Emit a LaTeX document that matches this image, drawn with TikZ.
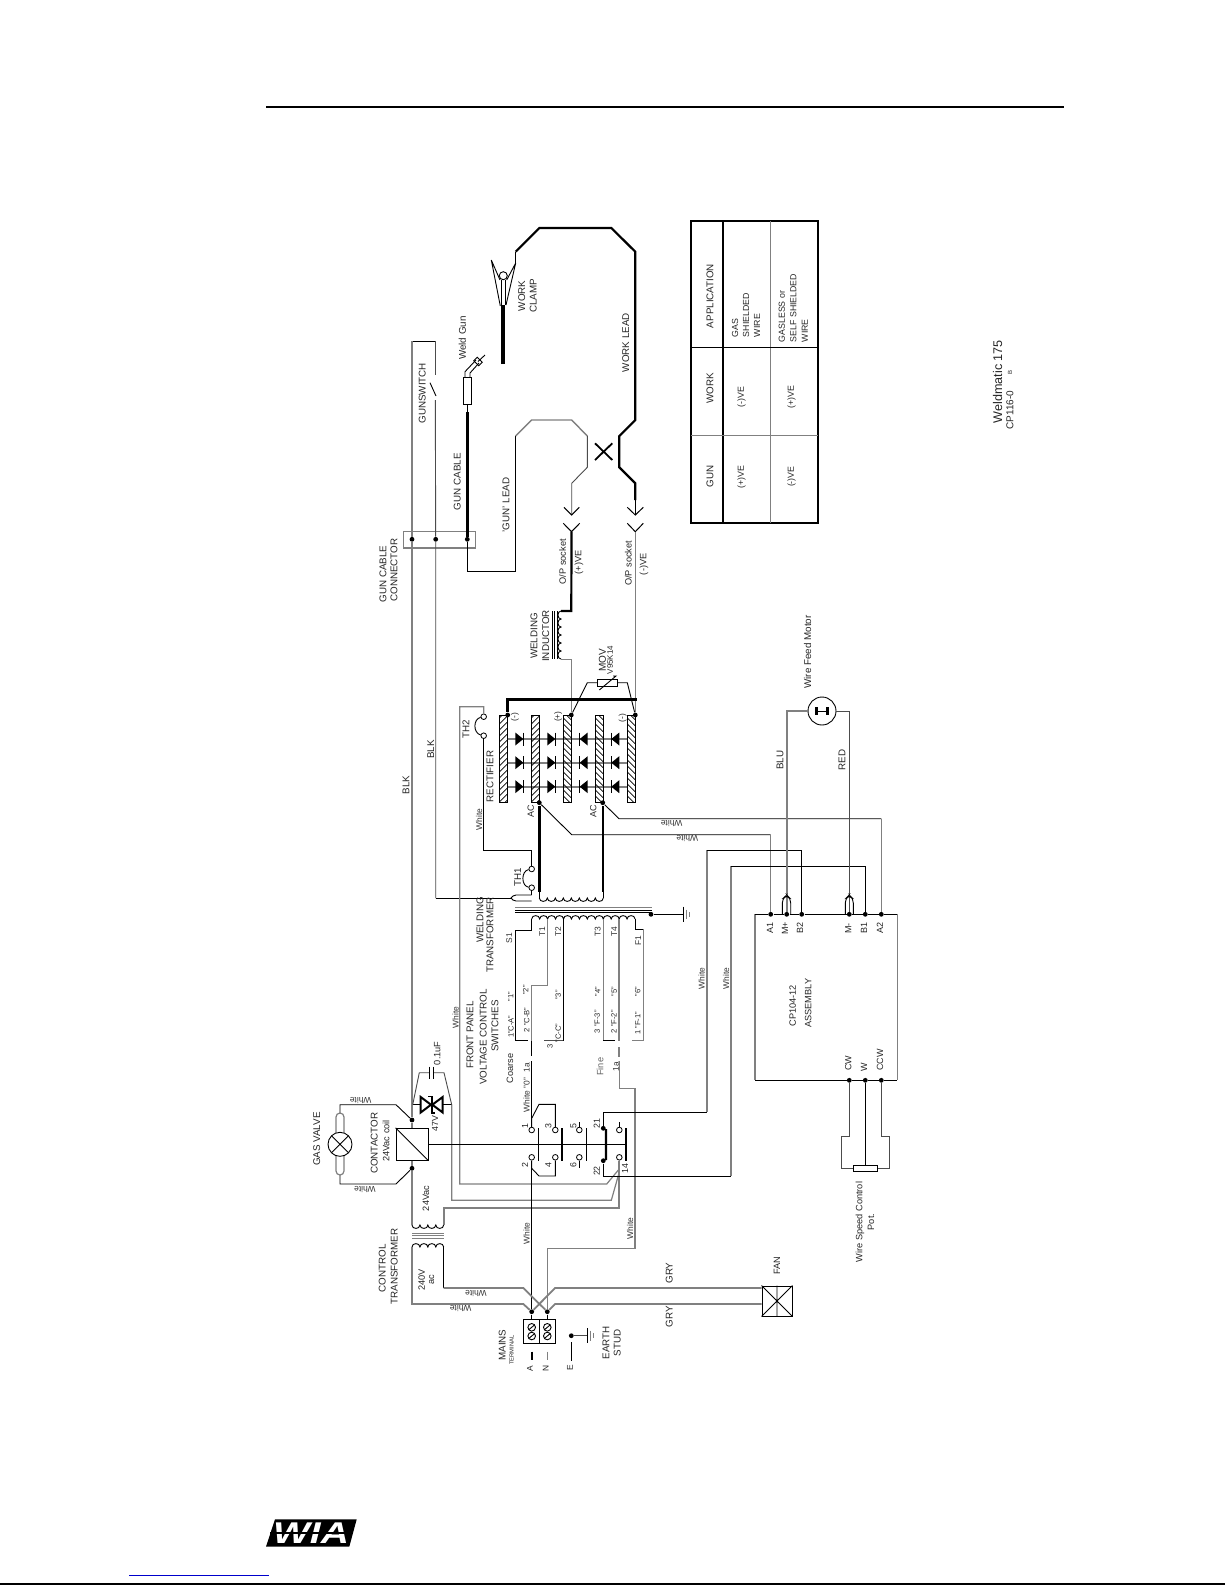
\documentclass[tikz,border=0pt]{standalone}
\usepackage{fontspec}
\setmainfont{Liberation Sans}
\definecolor{wg}{gray}{0.5}
\definecolor{dg}{gray}{0.3}
\newcommand\fs[1]{\fontsize{#1}{#1}\selectfont}
\newcommand\hcoil[5]{\draw[#5] (#1) foreach \i in {1,...,#2}{ .. controls +(0,#4) and +(0,#4) .. ++(#3,0)};}
\newcommand\vcoil[5]{\draw[#5] (#1) foreach \i in {1,...,#2}{ .. controls +(#4,0) and +(#4,0) .. ++(0,#3)};}
\newcommand\hatchbar[3]{%
 \begin{scope}\clip (#1,715) rectangle (#2,802.7);
 \foreach \yy in {700,706,...,815}{\draw[black,line width=0.35pt] (#1,\yy) -- (#2,{\yy+#3*7.7});}
 \end{scope}
 \draw[bw] (#1,715) rectangle (#2,802.7);}
\newcommand\drd[3]{%
 \fill ({#1-4*#3},{#2-6.5}) -- ({#1+4*#3},#2) -- ({#1-4*#3},{#2+6.5}) -- cycle;
 \draw[line width=0.7pt] ({#1+4*#3},{#2-6.5}) -- ({#1+4*#3},{#2+6.5});}
\begin{document}
\begin{tikzpicture}[x=0.5pt,y=-0.5pt,
 bw/.style={black,line width=0.45pt},
 dw/.style={dg,line width=0.45pt},
 tg/.style={wg,line width=0.45pt},
 gw/.style={wg,line width=0.9pt},
 hw/.style={black,line width=1.5pt},
 dotn/.style={circle,fill=black,inner sep=0pt,minimum size=2.4pt},
 term/.style={circle,draw=black,fill=white,line width=0.4pt,inner sep=0pt,minimum size=2.8pt},
 lb/.style={rotate=90,inner sep=0pt,text=black!85,font=\fs{4.9}},
 ls/.style={rotate=90,inner sep=0pt,text=black!85,font=\fs{4.2}},
 lw/.style={rotate=180,inner sep=0pt,text=black!80,font=\fs{4.2}},
 lv/.style={rotate=90,inner sep=0pt,text=black!80,font=\fs{4.2}}]
\useasboundingbox (0,0) rectangle (1225,1585);
\fill[white] (0,0) rectangle (1225,1585);
% page furniture
\coordinate (ruleL) at (266,107); \coordinate (ruleR) at (1064,107);
\draw[line width=1pt] (ruleL) -- (ruleR);
\coordinate (footL) at (0,1584); \coordinate (footR) at (1225,1584);
\draw[line width=0.8pt] (footL) -- (footR);
\coordinate (linkL) at (129,1575.3); \coordinate (linkR) at (269,1575.3);
\draw[blue!80!black,line width=0.5pt] (linkL) -- (linkR);
\fill (266,1546.7) -- (275,1519.3) -- (356.7,1519.3) -- (349.3,1546.7) -- cycle;
\node[inner sep=0,text=white,font=\fs{15}\bfseries\itshape,xscale=1.3] (wia) at (311,1533) {WIA};
\draw[line width=0.7pt] (270,1533) -- (353,1533);

% named terminals
\node[dotn] (dGate) at (412,539.3) {};
\node[dotn] (dSw) at (435.7,539.3) {};
\node[dotn] (dGun) at (467.3,539.3) {};
\node[dotn] (dCtop) at (412,1120) {};
\node[dotn] (dCbot) at (412,1168.3) {};
\node[dotn] (dNeg1) at (507.7,715) {};
\node[dotn] (dPos) at (571.3,715) {};
\node[dotn] (dNeg2) at (635.3,715) {};
\node[dotn] (dAC1) at (539.3,802.7) {};
\node[dotn] (dAC2) at (602.7,802.7) {};
\node[dotn] (dCore) at (651,914.3) {};
\node[dotn] (dA1) at (770.7,914.3) {};
\node[dotn] (dMp) at (786.7,914.3) {};
\node[dotn] (dB2) at (801.7,914.3) {};
\node[dotn] (dMm) at (849.3,914.3) {};
\node[dotn] (dB1) at (865.3,914.3) {};
\node[dotn] (dA2) at (881.3,914.3) {};
\node[dotn] (dCW) at (849.3,1080.3) {};
\node[dotn] (dW) at (865.3,1080.3) {};
\node[dotn] (dCCW) at (881.3,1080.3) {};
\node[dotn] (dLA) at (531.7,1311.7) {};
\node[dotn] (dLN) at (547.3,1311.7) {};
\node[dotn] (dE) at (571.3,1335.7) {};
\node[dotn] (d21) at (603.3,1128.3) {};
\node[dotn] (d22) at (603.3,1160.7) {};
\node[term] (k1) at (531.7,1130) {};
\node[term] (k2) at (531.7,1157.3) {};
\node[term] (k3) at (555.3,1130) {};
\node[term] (k4) at (555.3,1157.3) {};
\node[term] (k5) at (579.3,1130) {};
\node[term] (k6) at (579.3,1157.3) {};
\node[term] (k13) at (619.3,1130) {};
\node[term] (k14) at (619.3,1157.3) {};
\node[term] (th1a) at (531.7,869) {};
\node[term] (th1b) at (531.7,887.7) {};
\node[term] (th2a) at (483.7,716.7) {};
\node[term] (th2b) at (483.7,735.7) {};
\coordinate (sockP) at (571.5,531.7); \coordinate (plugP) at (571.7,515);
\coordinate (sockN) at (635.3,531.7); \coordinate (plugN) at (635.3,515);

% gun cable connector
\draw[tg,line width=0.6pt] (403.3,531.7) rectangle (475.7,548);
% gunswitch wires
\draw[bw] (412,341) -- (435.3,341);
\draw[gw] (412,341) -- (dGate) -- (dCtop);
\draw[dw] (435.3,341) -- (435.3,375);
\draw[bw] (430,382.7) -- (436,396);
\draw[dw] (435.3,400) -- (dSw) -- (435.7,898);
\draw[bw] (435.7,898) -- (512,898);
\draw[bw] (531.7,895) -- (516,895) .. controls (513,895) and (512,897) .. (511,898) .. controls (512,899) and (513,901) .. (516,901) -- (531.7,901);
\draw[bw] (th1b) -- (531.7,895);
% TH1 TH2
\draw[bw] (th1a) .. controls (521,871) and (521,886) .. (th1b);
\draw[bw] (th2a) .. controls (473,719) and (473,733) .. (th2b);
\draw[bw] (th1a) -- (531.7,850.7) -- (483.7,850.7) -- (th2b);
\draw[tg,line width=0.6pt] (th2a) -- (483.7,706.7) -- (459.7,706.7) -- (459.7,1184) -- (606.7,1184) -- (618.8,1169.5);
\draw[tg,line width=0.6pt] (451.7,1104.7) -- (451.7,1200.3) -- (611.3,1200.3) -- (619.3,1172);
\draw[gw] (k14) -- (619.3,1208) -- (443.7,1208) -- (443.7,1225);
% gun lead & gun
\draw[hw,line width=1.3pt] (dGun) -- (467.3,411.7);
\draw[bw] (467.3,411.7) -- (467.3,404.3);
\draw[bw] (dGun) -- (467.3,571.7) -- (515.7,571.7) -- (515.7,436);
\draw[tg,line width=0.7pt] (515.7,436) -- (531.7,420) -- (571.7,420) -- (587.3,436);
\draw[dw] (587.3,436) -- (587.3,467.3) -- (571.7,483.3) -- (plugP);
\draw[bw,line width=0.5pt] (564,507.3) -- (plugP) -- (579.3,507.3);
\draw[bw,line width=0.5pt] (563.3,523.3) -- (sockP) -- (579.7,523.3);
\draw[bw,line width=0.5pt] (627.3,507.3) -- (plugN) -- (643.3,507.3);
\draw[bw,line width=0.5pt] (627.3,523.3) -- (sockN) -- (643.3,523.3);
\draw[bw,fill=white] (463.3,377.7) rectangle (471.3,404.3);
\draw[bw] (465,377.7) -- (465,371.7) -- (476,360);
\draw[bw] (470,377.7) -- (470,373) -- (479,363);
\draw[bw,rotate around={45:(478,361.5)}] (475.5,358) rectangle (480.5,365);
\draw[bw] (478,361.5) -- (485,355);
% work lead
\draw[hw,line width=1.1pt] (635.3,500) -- (635.3,483.3) -- (619.3,467.3) -- (619.3,436) -- (635.3,420) -- (635.3,251.7) -- (611.3,228) -- (539.3,228) -- (515.7,251.7);
\draw[bw] (plugN) -- (635.3,500);
\draw[bw] (515.7,251.7) -- (515.7,263);
\draw[hw,line width=2pt] (503.3,364) -- (503.3,305);
\draw[bw] (515.7,263) -- (506,305) (515.7,263) -- (506.7,280);
\draw[bw] (491.3,260) -- (500.3,306) (491.3,260) -- (500,280);
\draw[bw] (501.5,280) -- (501.5,305) (505,280) -- (505,305);
\draw[bw,fill=white] (503.3,275.7) circle[radius=4];
\draw[line width=0.9pt] (595,443.3) -- (612.3,460) (612.3,443.3) -- (595,460);
% inductor
\draw[hw,line width=1.1pt] (sockP) -- (571.3,611) -- (561,611);
\draw[tg] (dPos) -- (571.3,659.3) -- (560.7,659.3);
\vcoil{561,611}{6}{8}{-4}{bw}
\foreach \xx in {552.3,554.7,557}{\draw[bw] (\xx,611) -- (\xx,659);}
\draw[tg,line width=0.6pt] (dNeg2) -- (sockN);
% MOV
\draw[bw] (dPos) -- (587.3,682.7) -- (597.3,682.7);
\draw[bw] (617.3,682.7) -- (627.3,682.7) -- (dNeg2);
\draw[bw,fill=white] (597.3,679.3) rectangle (617.3,686);
\draw[bw] (599.3,690) -- (616,676) -- (613,676);
\draw[hw,line width=1.5pt] (dNeg1) -- (507.7,699.3) -- (636.7,699.3);
% rectifier
\foreach \yy in {739,762.7,786.7}{\draw[wg,line width=1pt] (507,\yy) -- (627.3,\yy);}
\hatchbar{499.3}{507}{-1}
\hatchbar{531.3}{539}{-1}
\hatchbar{563.3}{571}{1}
\hatchbar{595.3}{603}{1}
\hatchbar{627.3}{635}{1}
\foreach \yy in {739,762.7,786.7}{
 \drd{519.3}{\yy}{1}\drd{551.3}{\yy}{1}\drd{583.7}{\yy}{-1}\drd{615.3}{\yy}{-1}}
% welding transformer
\draw[line width=1.2pt] (dAC1) -- (539.3,891.7);
\draw[line width=1.2pt] (dAC2) -- (602.7,891.7);
\draw[bw] (539.3,891.7) -- (539.3,898);
\draw[bw] (603.3,891.7) -- (603.3,898);
\hcoil{539.3,898}{8}{8}{4.5}{bw}
\draw[tg] (515,907.3) -- (651.7,907.3);
\draw[bw] (515,910) -- (651.7,910);
\draw[bw] (515,912.3) -- (651.7,912.3);
\hcoil{531.7,919}{13}{7.95}{-4.5}{bw}
\draw[bw] (515.7,1040.7) -- (515.7,930) -- (531.7,930) -- (531.7,919);
\draw[tg] (547.7,919) -- (547.7,985.3) -- (531.7,985.3) -- (531.7,1040.7);
\draw[bw] (563.3,919) -- (563.3,1040.7);
\draw[tg] (603.3,919) -- (603.3,1040.7);
\draw[gw,line width=0.8pt] (619,919) -- (619,1040.7);
\draw[bw] (635,919) -- (635,929) -- (643.3,929);
\draw[gw,line width=0.7pt] (643.3,929) -- (643.3,1040.7);
\draw[bw] (515.7,1040.7) -- (527.7,1040.7);
\draw[dw] (544,1040.7) -- (563.3,1040.7);
\draw[bw] (603.3,1040.7) -- (615,1040.7);
\draw[tg] (632,1040.7) -- (643.3,1040.7);
\draw[bw,line width=0.6pt] (531.7,1041) -- (531.7,1056) (k1) -- (531.7,1061);
\draw[tg,line width=0.6pt] (619,1047) -- (619,1056.7);
\draw[tg,line width=0.6pt] (619.3,1061) -- (619.3,1088.3) -- (635,1088.3) -- (635,1248.3) -- (547.3,1248.3) -- (dLN);
% ground
\draw[bw] (dCore) -- (683.3,914.3);
\draw[bw] (683.3,906.7) -- (683.3,922);
\draw[tg] (686,909.5) -- (686,919);
\draw[tg] (689,912) -- (689,916.5);
% AC wires to assembly
\draw[bw] (dAC1) -- (571.7,834.7) -- (770.7,834.7);
\draw[tg] (770.7,834.7) -- (dA1);
\draw[bw] (dAC2) -- (619,818.7) -- (881.3,818.7);
\draw[tg] (881.3,818.7) -- (dA2);
% assembly
\draw[tg,line width=0.6pt] (755,914.3) -- (755,1080.3) (897.3,914.3) -- (897.3,1080.3);
\draw[bw] (755,914.3) -- (dA1) -- (dMp) -- (dB2) -- (dMm) -- (dB1) -- (dA2) -- (897.3,914.3);
\draw[bw] (755,1080.3) -- (dCW) -- (dW) -- (dCCW) -- (897.3,1080.3);
% contact wiring
\draw[bw] (d21) -- (603.3,1112.3) -- (706.7,1112.3);
\draw[gw] (706.7,1112.3) -- (706.7,850.3);
\draw[bw] (706.7,850.3) -- (801.7,850.3) -- (dB2);
\draw[bw] (d22) -- (603.3,1176) -- (731,1176);
\draw[tg,line width=0.7pt] (731,1176) -- (731,866.3);
\draw[bw] (731,866.3) -- (865.3,866.3) -- (dB1);
% motor
\node[circle,draw=black,line width=0.45pt,inner sep=0,minimum size=14pt] (motor) at (822,711) {};
\draw[gw] (dMp) -- (786.7,711) -- (motor);
\draw[dw] (dMm) -- (849.3,711) -- (motor);
\draw[bw,rounded corners=2pt] (782.3,914.3) -- (782.3,899) -- (786.7,895) -- (790.7,899) -- (790.7,914.3);
\draw[bw,rounded corners=2pt] (845.3,914.3) -- (845.3,899) -- (849.3,895) -- (853.3,899) -- (853.3,914.3);
\fill (815,707) rectangle (818,715);
\fill (826,707) rectangle (829,715);
\draw[bw] (818,711) -- (826,711);
% pot
\node[draw=black,line width=0.4pt,minimum width=12pt,minimum height=3pt,inner sep=0] (pot) at (865.3,1168) {};
\draw[dw] (dCW) -- (849.3,1136) -- (841.7,1136) -- (841.7,1168) -- (pot);
\draw[dw] (dCCW) -- (881.3,1136) -- (889.3,1136) -- (889.3,1168) -- (pot);
\draw[bw] (dW) -- (pot);
% contactor
\node[draw=black,line width=0.45pt,minimum size=16pt,inner sep=0] (coil) at (412,1144.3) {};
\draw[bw] (coil.north west) -- (coil.south east);
\draw[bw] (coil.east) -- (627.3,1144.3);
\draw[gw] (dCbot) -- (412,1225);
\draw[gw,line width=0.6pt] (dCtop) -- (coil) (dCbot) -- (coil);
\foreach \xx in {538.3,562,586.3,626}{\draw[line width=0.8pt] (\xx,1128) -- (\xx,1160.7);}
\draw[line width=1.2pt] (d21) .. controls (606,1129) and (606,1131) .. (606,1134) -- (606,1155) .. controls (606,1158) and (606,1160) .. (d22);
% contacts stubs
\draw[bw] (k1) -- (531.7,1118.3) -- (539,1104.3) -- (555.3,1104.3) -- (k3);
\draw[bw] (k2) -- (531.7,1168.3) -- (539,1176) -- (555.3,1176) -- (k4);
\draw[bw] (k2) -- (dLA);
\draw[bw] (k5) -- (579.3,1121.7);
\draw[bw] (k6) -- (579.3,1168.3);
\draw[bw] (k13) -- (619.3,1121.7);
% valve
\draw[bw] (dCtop) -- (396,1104.7) -- (340,1104.7) -- (340,1113);
\draw[bw] (dCbot) -- (396,1184) -- (340,1184) -- (340,1175);
\draw[tg,rounded corners=2pt,line width=0.6pt] (336,1113) rectangle (344,1175);
\node[circle,draw=black,fill=white,line width=0.45pt,inner sep=0,minimum size=12pt] (valve) at (340,1144.3) {};
\draw[bw] (331.5,1135.8) -- (348.5,1152.8) (348.5,1135.8) -- (331.5,1152.8);
% zener & cap
\draw[bw] (412.7,1104.7) -- (420.7,1104.7) (442.7,1104.7) -- (451.7,1104.7);
\draw[line width=1pt] (420.7,1097) -- (431,1104.7) -- (420.7,1112.5) -- cycle;
\draw[line width=1pt] (442.7,1097) -- (432.3,1104.7) -- (442.7,1112.5) -- cycle;
\draw[line width=0.8pt] (428,1096.5) -- (431.7,1096.5) -- (431.7,1113) -- (435,1113);
\draw[dw] (412.7,1104.7) -- (419.3,1072.7) -- (429.3,1072.7);
\draw[dw] (433.3,1072.7) -- (444,1072.7) -- (451.7,1104.7);
\draw[line width=0.6pt] (429.3,1066.7) -- (429.3,1079.3);
\draw[line width=0.6pt] (433.3,1066.7) -- (433.3,1079.3);
% control transformer
\hcoil{412,1225}{4}{7.93}{4.5}{bw}
\hcoil{412,1247}{4}{7.93}{-4.5}{bw}
\foreach \yy in {1233.5,1235.8,1238}{\draw[wg,line width=0.5pt] (412,\yy) -- (443.7,\yy);}
\draw[gw] (412,1247) -- (412,1304) -- (523.3,1304) -- (dLA);
\draw[bw] (443.7,1247) -- (443.7,1288);
\draw[gw] (443.7,1288) -- (523.3,1288) -- (dLN);
% fan
\node[draw=black,line width=0.45pt,minimum size=15pt,inner sep=0] (fan) at (777,1301) {};
\draw[bw] (fan.north west) -- (fan.south east) (fan.north east) -- (fan.south west) (fan.north) -- (fan.south);
\draw[gw] (dLA) -- (555,1288) -- (fan.west |- 0,1288);
\draw[gw] (dLN) -- (555,1304) -- (fan.west |- 0,1304);
% mains terminal
\draw[bw] (523.3,1319.3) rectangle (555.7,1343.3);
\draw[bw] (539.3,1319.3) -- (539.3,1343.3);
\draw[bw] (dLA) -- (531.7,1319.3) (dLN) -- (547.3,1319.3);
\foreach \xx in {531.7,547.3}{\foreach \yy in {1327.3,1336}{
 \draw[bw] (\xx,\yy) circle[radius=3.8];
 \draw[bw] (\xx+3,\yy-2.5) -- (\xx-3,\yy+2.5);}}
\draw[line width=1pt] (531.7,1351.7) -- (531.7,1360);
\draw[wg,line width=0.7pt] (547.3,1351.7) -- (547.3,1360);
\draw[line width=0.7pt] (571.3,1342.3) -- (571.3,1360.7);
\draw[dw] (dE) -- (587.3,1335.7);
\draw[bw] (587.3,1328.3) -- (587.3,1343.3);
\draw[tg] (590,1330.5) -- (590,1340.5);
\draw[tg] (593.3,1333) -- (593.3,1338);
% table
\draw[line width=1.1pt] (691,221) rectangle (817.7,523.3);
\draw[line width=1.1pt] (723.3,221) -- (723.3,523.3);
\draw[tg] (770.7,221) -- (770.7,523.3);
\draw[bw] (691,347.7) -- (817.7,347.7);
\draw[tg,line width=0.6pt] (691,435.7) -- (817.7,435.7);

% text
\node[lb] (t1) at (710,296) {APPLICATION};
\node[lb] (t2) at (710,388.3) {WORK};
\node[lb] (t3) at (710,476.7) {GUN};
\node[ls,font=\fs{4.4},align=left] (t4) at (746,315) {GAS\\[1.1pt]SHIELDED\\[1.1pt]WIRE};
\node[ls,font=\fs{4.4},align=left] (t5) at (793.3,308) {GASLESS or\\[1.4pt]SELF SHIELDED\\[1.4pt]WIRE};
\node[ls,font=\fs{4.4}] (t6) at (741.7,397) {(-)VE};
\node[ls,font=\fs{4.4}] (t7) at (741.7,476.7) {(+)VE};
\node[ls,font=\fs{4.4}] (t8) at (791.7,397) {(+)VE};
\node[ls,font=\fs{4.4}] (t9) at (791.7,476.7) {(-)VE};
\node[lb,font=\fs{6.3}] (t10) at (997.7,381.7) {Weldmatic 175};
\node[lb,font=\fs{5}] (t11) at (1010,410) {CP116-0};
\node[lb,font=\fs{3}] (t12) at (1010,372.7) {B};
\node[lb] (t13) at (462.3,338) {Weld Gun};
\node[lb] (t14) at (521.7,296) {WORK};
\node[lb] (t15) at (533.3,296) {CLAMP};
\node[lb] (t16) at (422.3,393.3) {GUNSWITCH};
\node[lb] (t17) at (457.3,481.7) {GUN CABLE};
\node[lb] (t18) at (506,505) {'GUN' LEAD};
\node[lb] (t19) at (625.7,342.7) {WORK LEAD};
\node[lb] (t20) at (383,574) {GUN CABLE};
\node[lb] (t21) at (394,570) {CONNECTOR};
\node[lb,font=\fs{4.6}] (t22) at (562.7,561.7) {O/P socket};
\node[lb,font=\fs{4.6}] (t23) at (579,562.3) {(+)VE};
\node[lb,font=\fs{4.6}] (t24) at (628.3,563.3) {O/P socket};
\node[lb,font=\fs{4.6}] (t25) at (644,564.3) {(-)VE};
\node[lb] (t26) at (534,636) {WELDING};
\node[lb] (t27) at (545.7,636) {INDUCTOR};
\node[lb,font=\fs{5}] (t28) at (602.3,660) {MOV};
\node[lb,font=\fs{4}] (t29) at (610,660) {V95K14};
\node[lb,font=\fs{4.2}] (t30) at (515,717.3) {(-)};
\node[lb,font=\fs{4.2}] (t31) at (558.3,716.7) {(+)};
\node[lb,font=\fs{4.2}] (t32) at (622.7,718) {(-)};
\node[lb] (t33) at (466,729.3) {TH2};
\node[lb] (t34) at (517.7,877.7) {TH1};
\node[lb] (t35) at (490,776.7) {RECTIFIER};
\node[lv] (t36) at (479,819.3) {White};
\node[lb,font=\fs{4.5}] (t37) at (530.7,811.7) {AC};
\node[lb,font=\fs{4.5}] (t38) at (593.3,811.7) {AC};
\node[lb] (t39) at (406,785) {BLK};
\node[lb] (t40) at (430.7,749.3) {BLK};
\node[lb] (t41) at (780,760) {BLU};
\node[lb] (t42) at (842,760) {RED};
\node[lb] (t43) at (807.6,652) {Wire Feed Motor};
\node[lw] (t44) at (671.7,823.3) {White};
\node[lw] (t45) at (687.3,838.7) {White};
\node[lv] (t46) at (701.7,978.3) {White};
\node[lv] (t47) at (726,978.3) {White};
\foreach \nm/\xx/\tx in {a/770/A1,b/785/M+,c/800/B2,d/848.3/M-,e/864/B1,f/880/A2}{
 \node[lb,font=\fs{4.5}] (pin\nm) at (\xx,928.3) {\tx};}
\node[lb,font=\fs{4.5}] (t48) at (848.3,1063.3) {CW};
\node[lb,font=\fs{4.5}] (t49) at (864,1067) {W};
\node[lb,font=\fs{4.5}] (t50) at (880,1060) {CCW};
\node[lb,font=\fs{4.6}] (t51) at (792.7,1005.7) {CP104-12};
\node[lb,font=\fs{4.6}] (t52) at (808.3,1003.3) {ASSEMBLY};
\node[lb,font=\fs{4.6}] (t53) at (860,1222) {Wire Speed Control};
\node[lb,font=\fs{4.6}] (t54) at (871,1222) {Pot.};
\node[lb,font=\fs{4.6}] (t55) at (777,1266) {FAN};
\node[lb] (t56) at (669.3,1273) {GRY};
\node[lb] (t57) at (669.3,1316.7) {GRY};
\node[lb] (t58) at (502.3,1345) {MAINS};
\node[lb,font=\fs{2.9}] (t59) at (511.7,1350) {TERMINAL};
\node[lb,font=\fs{4.2}] (t60) at (530,1368.3) {A};
\node[lb,font=\fs{4.2}] (t61) at (545.7,1368) {N};
\node[lb,font=\fs{4.2}] (t62) at (570,1368) {E};
\node[lb] (t63) at (606,1342.7) {EARTH};
\node[lb] (t64) at (617.3,1342.7) {STUD};
\node[lb] (t65) at (382.3,1268.3) {CONTROL};
\node[lb] (t66) at (394.3,1266.7) {TRANSFORMER};
\node[lb,font=\fs{4.6}] (t67) at (421.7,1280) {240V};
\node[lb,font=\fs{4.6}] (t68) at (431.7,1280) {ac};
\node[lw] (t69) at (476,1293) {White};
\node[lw] (t70) at (460.7,1308.3) {White};
\node[lw] (t71) at (360.7,1100.7) {White};
\node[lw] (t72) at (365,1189) {White};
\node[lv] (t73) at (526.7,1233.3) {White};
\node[lv] (t74) at (630,1228.3) {White};
\node[lv] (t75) at (526.7,1095) {White "0"};
\node[lv] (t76) at (526.7,1067.7) {1a};
\node[lb,font=\fs{4.6}] (t77) at (510,1068.3) {Coarse};
\node[lb,font=\fs{4.6},text=black!60] (t78) at (600,1066.7) {Fine};
\node[lv] (t79) at (616,1066.7) {1a};
\node[lb,font=\fs{4.4}] (t80) at (435,1123.3) {47V};
\node[lb,font=\fs{4.6}] (t81) at (437.3,1053.3) {0.1uF};
\node[lb,font=\fs{4.6}] (t82) at (426,1198.3) {24Vac};
\node[lb] (t83) at (316.7,1139) {GAS VALVE};
\node[lb] (t84) at (374.3,1143.3) {CONTACTOR};
\node[lb,font=\fs{4.6}] (t85) at (386,1141) {24Vac coil};
\node[lv] (t86) at (455.7,1017.3) {White};
\node[lb] (t87) at (470,1035) {FRONT PANEL};
\node[lb] (t88) at (483.3,1037) {VOLTAGE CONTROL};
\node[lb] (t89) at (495,1026) {SWITCHES};
\node[lb] (t90) at (480,920) {WELDING};
\node[lb] (t91) at (490,935) {TRANSFORMER};
\node[lv] (t92) at (509.3,938.3) {S1};
\node[lv] (t93) at (542.3,931.7) {T1};
\node[lv] (t94) at (558.3,931.7) {T2};
\node[lv] (t95) at (597.7,931.7) {T3};
\node[lv] (t96) at (614.3,931.7) {T4};
\node[lv] (t97) at (638.3,940.7) {F1};
\node[ls,font=\fs{3.8}] (t98) at (511,1026.7) {1"C-A"};
\node[ls,font=\fs{3.8}] (t99) at (510.7,996.7) {"1"};
\node[ls,font=\fs{3.8}] (t100) at (526.7,1020) {2 "C-B"};
\node[ls,font=\fs{3.8}] (t101) at (525.7,990) {"2"};
\node[ls,font=\fs{3.8}] (t102) at (558.3,995) {"3"};
\node[ls,font=\fs{3.8}] (t103) at (558.3,1033) {"C-C"};
\node[ls,font=\fs{3.8}] (t104) at (550,1046.7) {3};
\node[ls,font=\fs{3.8}] (t105) at (597.3,1021.7) {3 "F-3"};
\node[ls,font=\fs{3.8}] (t106) at (597.7,991.7) {"4"};
\node[ls,font=\fs{3.8}] (t107) at (614,1021.7) {2 "F-2"};
\node[ls,font=\fs{3.8}] (t108) at (614.3,991.7) {"5"};
\node[ls,font=\fs{3.8}] (t109) at (637.7,1023.3) {1 "F-1"};
\node[ls,font=\fs{3.8}] (t110) at (637.7,991.7) {"6"};
\foreach \nm/\xx/\yy/\tx in {a/525/1126/1,b/525/1165/2,c/548.3/1126/3,e/548.3/1165/4,f/573.3/1126/5,g/573.3/1165/6,h/596.7/1123.3/21,i/596.7/1171/22,j/625/1168.3/14}{
 \node[ls,font=\fs{4.4}] (num\nm) at (\xx,\yy) {\tx};}
\end{tikzpicture}
\end{document}
